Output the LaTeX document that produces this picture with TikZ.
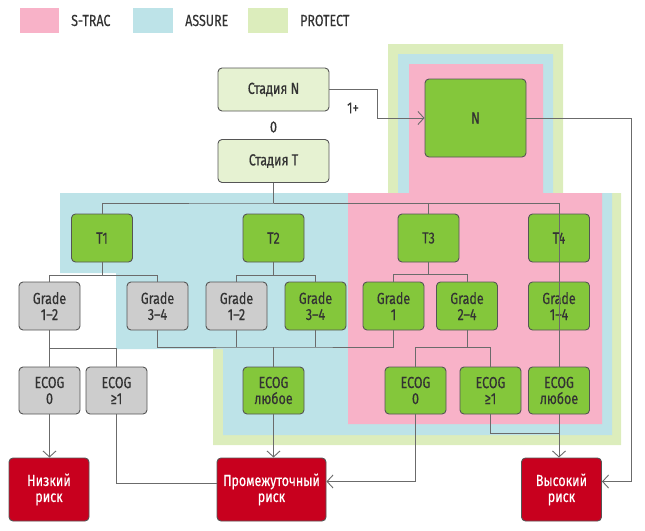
\documentclass[tikz,border=0pt]{standalone}
\usepackage{fontspec}
\setmainfont[FakeStretch=0.78, FakeBold=0.35]{Fira Sans}
\usepackage{tikz}
\usetikzlibrary{arrows.meta}
\definecolor{strac}{HTML}{F8B2C8}
\definecolor{assure}{HTML}{BDE3E8}
\definecolor{protect}{HTML}{DCEDBC}
\definecolor{tgreen}{HTML}{84C73B}
\definecolor{tgray}{HTML}{CDCDCD}
\definecolor{stage}{HTML}{E6F2D2}
\definecolor{risk}{HTML}{C8001E}
\definecolor{edge}{HTML}{555555}
\definecolor{wire}{HTML}{6B6B6B}
\definecolor{ink}{HTML}{333333}
\tikzset{>={Straight Barb[length=6pt,width=13pt]}}
\tikzset{cell/.style = {draw=edge, line width=0.9pt, rounded corners=4pt, minimum width=61pt, minimum height=48pt,
                        inner sep=0pt, align=center, text=ink, font=\fontsize{16}{16}\selectfont}}
\tikzset{greencell/.style = {cell, fill=tgreen}}
\tikzset{graycell/.style = {cell, fill=tgray}}
\tikzset{stagecell/.style = {cell, fill=stage, minimum width=111pt, minimum height=43pt}}
\tikzset{riskcell/.style = {cell, fill=risk, text=white, minimum width=80pt, minimum height=63pt}}
\tikzset{tag/.style = {inner sep=0pt, text=ink, font=\fontsize{16}{16}\selectfont}}
\tikzset{link/.style = {draw=wire, line width=0.9pt}}

\begin{document}
\begin{tikzpicture}[x=1pt,y=-1pt]
                    \useasboundingbox (0,0) rectangle (645,530);

                    \fill[protect] (213,193) -- (388,193) -- (388,44) -- (563,44) -- (563,193) -- (621,193) -- (621,445) -- (213,445) -- cycle;
                    \fill[assure] (60,193) -- (398,193) -- (398,54) -- (553,54) -- (553,193) -- (612,193) -- (612,435) -- (223,435) -- (223,349) -- (116,349) -- (116,273) -- (60,273) -- cycle;
                    \fill[strac] (348,193) -- (409,193) -- (409,64) -- (543,64) -- (543,193) -- (602,193) -- (602,424) -- (348,424) -- cycle;

                    \fill[strac] (20,8) rectangle (59,33);
                    \fill[assure] (133,8) rectangle (173,33);
                    \fill[protect] (248,8) rectangle (288,33);
                    \node[tag, anchor=west] (lstrac) at (71,20.5) {S-TRAC};
                    \node[tag, anchor=west] (lassure) at (185,20.5) {ASSURE};
                    \node[tag, anchor=west] (lprotect) at (300,20.5) {PROTECT};

                    \node[stagecell] (stn) at (273.5,89.5) {Стадия N};
                    \node[stagecell] (stt) at (273.5,161) {Стадия T};
                    \node[tag] (zero) at (273.5,127) {0};
                    \node[tag] (onep) at (353,108) {1+};
                    \node[greencell, minimum width=101pt, minimum height=78pt] (n) at (475.5,118) {N};

                    \node[greencell] (t1) at (102,238) {T1};
                    \node[greencell] (t2) at (273.5,238) {T2};
                    \node[greencell] (t3) at (428.5,238) {T3};
                    \node[greencell] (t4) at (559,238) {T4};

                    \node[graycell] (g1) at (49.5,306) {Grade\\1–2};
                    \node[graycell] (g2) at (157.5,306) {Grade\\3–4};
                    \node[graycell] (g3) at (236.5,306) {Grade\\1–2};
                    \node[greencell] (g4) at (315.5,306) {Grade\\3–4};
                    \node[greencell] (g5) at (393.5,306) {Grade\\1};
                    \node[greencell] (g6) at (467,306) {Grade\\2–4};
                    \node[greencell] (g7) at (559,306) {Grade\\1–4};

                    \node[graycell, minimum height=47pt] (e1) at (49.5,390.5) {ECOG\\0};
                    \node[graycell, minimum height=47pt] (e2) at (116.5,390.5) {ECOG\\≥1};
                    \node[greencell, minimum height=47pt] (e3) at (273.5,390.5) {ECOG\\любое};
                    \node[greencell, minimum height=47pt] (e4) at (415.5,390.5) {ECOG\\0};
                    \node[greencell, minimum height=47pt] (e5) at (490.5,390.5) {ECOG\\≥1};
                    \node[greencell, minimum height=47pt] (e6) at (559,390.5) {ECOG\\любое};

                    \node[riskcell] (low) at (49,489.5) {Низкий\\риск};
                    \node[riskcell, minimum width=109pt] (mid) at (271.5,489.5) {Промежуточный\\риск};
                    \node[riskcell] (high) at (561.5,489.5) {Высокий\\риск};

                    \coordinate (tbus) at (273.5,203);
                    \coordinate (nturn) at (631,118);
                    \coordinate (gbus) at (273.5,347);
                    \coordinate (hjoin) at (559,433);

                    \draw[link, ->] (stn.east) -- ++(48,0) |- (n.west);
                    \draw[link, ->] (n.east) -- (nturn) |- ([yshift=8pt]high.east);
                    \draw[link] (stt.south) -- (tbus);
                    \draw[link] (t1.north) |- (tbus) -| (t3.north);
                    \draw[link] (tbus) -| (e6.north);

                    \draw[link] (t1.south) -- ++(0,13) -| (g1.north);
                    \draw[link] (t1.south) -- ++(0,13) -| (g2.north);
                    \draw[link] (t2.south) -- ++(0,13) -| (g3.north);
                    \draw[link] (t2.south) -- ++(0,13) -| (g4.north);
                    \draw[link] (t3.south) -- ++(0,12) -| (g5.north);
                    \draw[link] (t3.south) -- ++(0,12) -| (g6.north);

                    \draw[link] (g1.south) -- (e1.north);
                    \draw[link] (g1.south) -- ++(0,18) -| (e2.north);
                    \draw[link] (g2.south) |- (gbus) -| (g5.south);
                    \draw[link] (g3.south) -- (g3.south |- gbus);
                    \draw[link] (g4.south) -- (g4.south |- gbus);
                    \draw[link] (gbus) -- (e3.north);
                    \draw[link] (g6.south) -- ++(0,17) -| (e4.north);
                    \draw[link] (g6.south) -- ++(0,17) -| (e5.north);

                    \draw[link, ->] (e1.south) -- (e1.south |- low.north);
                    \draw[link] (e2.south) |- ([yshift=6pt]mid.west);
                    \draw[link, ->] (e3.south) -- (e3.south |- mid.north);
                    \draw[link, ->] (e4.south) |- ([yshift=8pt]mid.east);
                    \draw[link] (e5.south) |- (hjoin);
                    \draw[link, ->] (e6.south) -- (e6.south |- high.north);
                \end{tikzpicture}
\end{document}
